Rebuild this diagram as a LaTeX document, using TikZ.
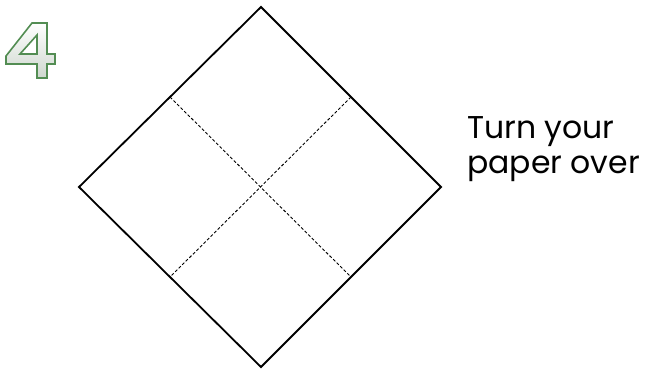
\documentclass[tikz,border=0pt]{standalone}
\usepackage{fontspec}
\setmainfont{Poppins}
\usetikzlibrary{calc}
\begin{document}
\begin{tikzpicture}[x=1pt,y=-1pt,
  paper/.style={draw=black,line width=1.8pt,line join=miter},
  fold/.style={draw=black,line width=0.9pt,dash pattern=on 3pt off 2pt},
  lbl/.style={anchor=base west,align=left,font=\fontsize{31.5}{35}\selectfont,inner sep=0pt},
  numglyph/.style={draw=black!35!green!35!gray,line width=1.6pt,line join=miter,top color=white,bottom color=green!10!gray!35,even odd rule}]
\useasboundingbox (0,0) rectangle (645,370);
\coordinate (T) at (261,7);
\coordinate (R) at (441,187);
\coordinate (B) at (261,367);
\coordinate (L) at (79,187);
\coordinate (mTL) at ($(T)!0.5!(L)$);
\coordinate (mTR) at ($(T)!0.5!(R)$);
\coordinate (mBL) at ($(B)!0.5!(L)$);
\coordinate (mBR) at ($(B)!0.5!(R)$);
\draw[fold] (mTL) -- (mBR);
\draw[fold] (mTR) -- (mBL);
\draw[paper] (T) -- (R) -- (B) -- (L) -- cycle;
\path[numglyph] (32,23) -- (47,23) -- (47,54) -- (55,54) -- (55,64) -- (47,64) -- (47,78) -- (37,78) -- (37,64) -- (6,64) -- (6,56) -- cycle
  (37,35) -- (37,54) -- (20,54) -- cycle;
\node[lbl] (txt) at (467,173) {Turn your\\paper over};
\end{tikzpicture}
\end{document}
